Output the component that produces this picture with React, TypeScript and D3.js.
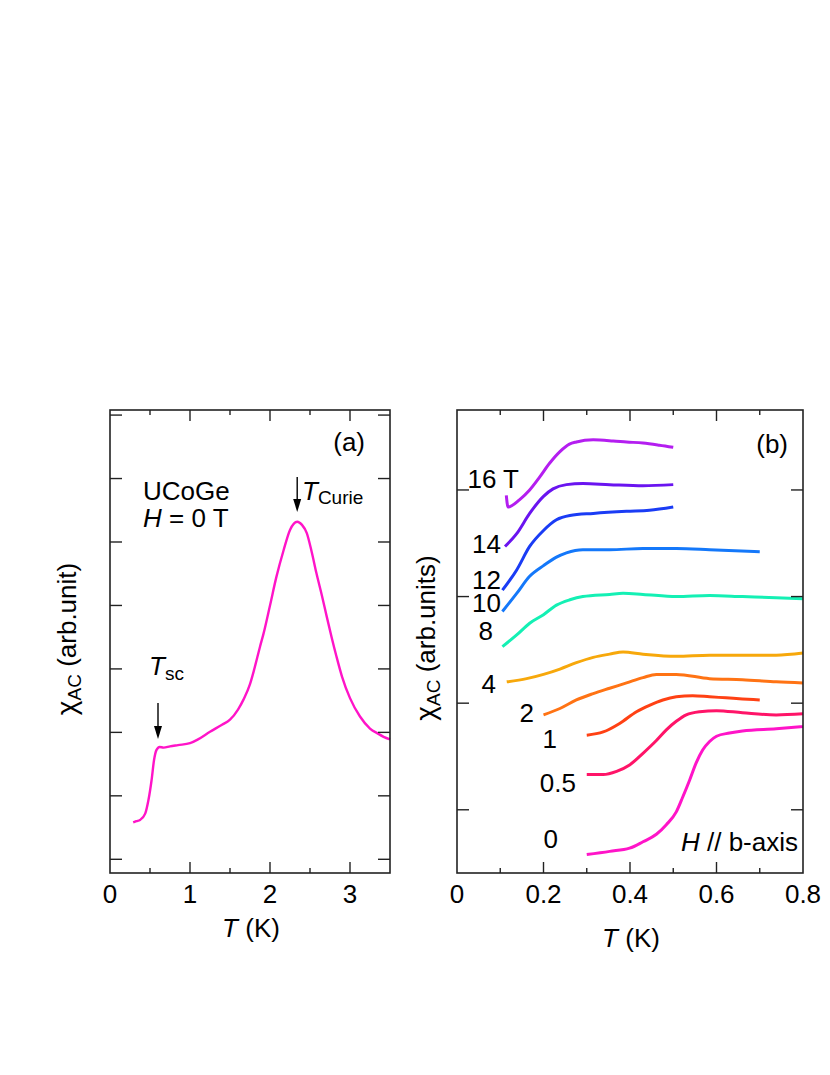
import React from 'react';
import * as d3 from 'd3';

// ---- panel (a): UCoGe, H = 0 T ----
const tA = [0.29, 0.33, 0.375, 0.44, 0.48, 0.52, 0.55, 0.58, 0.62, 0.67, 0.75, 0.85, 1.0, 1.1, 1.25, 1.4, 1.5, 1.6, 1.67, 1.75, 1.8, 1.875, 1.92, 2.0, 2.08, 2.17, 2.25, 2.34, 2.4, 2.46, 2.52, 2.58, 2.65, 2.71, 2.77, 2.83, 2.9, 3.0, 3.125, 3.25, 3.35, 3.42, 3.5];
const chiA = [0.58, 0.6, 0.62, 0.72, 0.93, 1.25, 1.56, 1.72, 1.77, 1.76, 1.78, 1.8, 1.83, 1.89, 2.01, 2.12, 2.2, 2.36, 2.52, 2.76, 2.98, 3.35, 3.56, 4.0, 4.45, 4.87, 5.19, 5.32, 5.27, 5.14, 4.85, 4.51, 4.15, 3.82, 3.5, 3.2, 2.88, 2.54, 2.25, 2.06, 1.98, 1.93, 1.89];

// ---- panel (b): field dependence, H // b ----
const t16 = [0.114, 0.118, 0.145, 0.168, 0.191, 0.214, 0.238, 0.26, 0.276, 0.315, 0.361, 0.392, 0.43, 0.468, 0.5];
const chi16 = [3.95, 3.84, 3.91, 4.0, 4.12, 4.25, 4.36, 4.43, 4.45, 4.47, 4.46, 4.45, 4.44, 4.42, 4.4];
const t14 = [0.111, 0.138, 0.168, 0.2, 0.222, 0.253, 0.291, 0.353, 0.43, 0.5];
const chi14 = [3.47, 3.59, 3.78, 3.94, 4.01, 4.05, 4.06, 4.05, 4.04, 4.05];
const t12 = [0.105, 0.138, 0.168, 0.2, 0.23, 0.261, 0.315, 0.392, 0.445, 0.5];
const chi12 = [3.06, 3.25, 3.47, 3.62, 3.72, 3.76, 3.78, 3.8, 3.81, 3.84];
const t10 = [0.105, 0.138, 0.168, 0.2, 0.23, 0.253, 0.291, 0.353, 0.43, 0.507, 0.584, 0.7];
const chi10 = [2.86, 3.03, 3.19, 3.29, 3.37, 3.41, 3.44, 3.44, 3.45, 3.45, 3.44, 3.42];
const t8 = [0.105, 0.138, 0.168, 0.2, 0.23, 0.261, 0.291, 0.353, 0.384, 0.43, 0.507, 0.584, 0.66, 0.738, 0.8];
const chi8 = [2.53, 2.64, 2.75, 2.83, 2.92, 2.97, 3.0, 3.02, 3.03, 3.02, 3.0, 3.01, 3.0, 2.99, 2.98];
const t4 = [0.115, 0.161, 0.2, 0.238, 0.276, 0.315, 0.353, 0.384, 0.43, 0.507, 0.584, 0.66, 0.738, 0.8];
const chi4 = [2.2, 2.23, 2.27, 2.32, 2.38, 2.43, 2.46, 2.48, 2.46, 2.44, 2.45, 2.45, 2.45, 2.47];
const t2 = [0.2, 0.238, 0.276, 0.315, 0.353, 0.392, 0.43, 0.461, 0.507, 0.584, 0.66, 0.738, 0.8];
const chi2 = [1.89, 1.95, 2.03, 2.09, 2.14, 2.19, 2.24, 2.27, 2.27, 2.23, 2.22, 2.2, 2.19];
const t1 = [0.3, 0.338, 0.376, 0.415, 0.445, 0.476, 0.507, 0.545, 0.584, 0.622, 0.66, 0.7];
const chi1 = [1.7, 1.73, 1.81, 1.92, 1.98, 2.03, 2.06, 2.07, 2.06, 2.05, 2.04, 2.03];
const t05 = [0.3, 0.338, 0.369, 0.399, 0.43, 0.461, 0.484, 0.507, 0.53, 0.561, 0.6, 0.66, 0.738, 0.8];
const chi05 = [1.33, 1.33, 1.36, 1.42, 1.53, 1.65, 1.75, 1.83, 1.89, 1.92, 1.93, 1.91, 1.89, 1.9];
const t0 = [0.3, 0.353, 0.399, 0.43, 0.461, 0.484, 0.507, 0.522, 0.538, 0.553, 0.568, 0.584, 0.6, 0.63, 0.66, 0.738, 0.8];
const chi0 = [0.58, 0.61, 0.64, 0.7, 0.77, 0.86, 0.98, 1.12, 1.28, 1.44, 1.56, 1.64, 1.69, 1.72, 1.74, 1.76, 1.78];

const fieldLabels = ['16 T', '14', '12', '10', '8', '4', '2', '1', '0.5', '0'];
const fieldT = [t16, t14, t12, t10, t8, t4, t2, t1, t05, t0];
const fieldChi = [chi16, chi14, chi12, chi10, chi8, chi4, chi2, chi1, chi05, chi0];

// tick labels
const xTickLabelsA = [0, 1, 2, 3];
const xTickLabelsB = [0, 0.2, 0.4, 0.6, 0.8];
const yTicksA = [0, 1, 2, 3, 4, 5, 6, 7];
const yTicksB = [1, 2, 3, 4];

const colors = ['#b41ef0', '#6a14f0', '#1a3cf5', '#1478fa', '#14f0b4', '#f7a80b', '#ff7314', '#ff4114', '#ff1468', '#ff14c8'];
// label anchor (text-anchor end) in pixels
const labelPos = [[519, 488], [501, 553], [501, 589], [501, 612], [493, 640], [496, 693], [534, 722], [557, 748], [576, 792], [558, 848]];

const FONT = '"Liberation Sans", Arial, Helvetica, sans-serif';
const TOP = 410;
const BOTTOM = 873;
const AXIS = '#222';

export default function App() {
  const xA = d3.scaleLinear().domain([0, 3.5]).range([110, 390]);
  const yA = d3.scaleLinear().domain([-0.216, 7.08]).range([BOTTOM, TOP]);
  const xB = d3.scaleLinear().domain([0, 0.8]).range([457, 803]);
  const yB = d3.scaleLinear().domain([0.407, 4.75]).range([BOTTOM, TOP]);

  const lineA = d3.line<number>().x((_, i) => xA(tA[i])).y((d) => yA(d)).curve(d3.curveMonotoneX);

  const ticksXA = d3.range(1, 7).map((i) => i * 0.5);
  const ticksXB = d3.range(1, 8).map((i) => i / 10);

  const frame = (x0: number, x1: number) => (
    <rect x={x0} y={TOP} width={x1 - x0} height={BOTTOM - TOP} fill="none" stroke={AXIS} strokeWidth={1.6} />
  );

  return (
    <svg width={830} height={1075} style={{ position: 'absolute', left: 0, top: 0, background: '#fff' }} fontFamily={FONT}>
      {/* ---------- panel (a) ---------- */}
      <path d={lineA(chiA) || ''} fill="none" stroke="#ff14c8" strokeWidth={2.4} strokeLinejoin="round" />
      {frame(110, 390)}
      {ticksXA.map((t) => {
        const len = Number.isInteger(t) ? 11 : 5;
        return (
          <g key={'xa' + t} stroke={AXIS} strokeWidth={1.4}>
            <line x1={xA(t)} x2={xA(t)} y1={BOTTOM} y2={BOTTOM - len} />
            <line x1={xA(t)} x2={xA(t)} y1={TOP} y2={TOP + len} />
          </g>
        );
      })}
      {yTicksA.map((v) => (
        <g key={'ya' + v} stroke={AXIS} strokeWidth={1.4}>
          <line x1={110} x2={122} y1={yA(v)} y2={yA(v)} />
          <line x1={390} x2={378} y1={yA(v)} y2={yA(v)} />
        </g>
      ))}
      {xTickLabelsA.map((t) => (
        <text key={'la' + t} x={xA(t)} y={903} fontSize={26} textAnchor="middle">{t}</text>
      ))}
      <text x={251} y={937} fontSize={26} textAnchor="middle">
        <tspan fontStyle="italic">T</tspan> (K)
      </text>
      <text transform="translate(76,639) rotate(-90)" fontSize={26} textAnchor="middle">
        <tspan fontSize={28}>χ</tspan>
        <tspan fontSize={19} dy={5}>AC</tspan>
        <tspan dy={-5}>{'\u00a0(arb.unit)'}</tspan>
      </text>
      <text x={365} y={451} fontSize={26} textAnchor="end">(a)</text>
      <text x={143} y={500} fontSize={26}>UCoGe</text>
      <text x={143} y={527} fontSize={26}>
        <tspan fontStyle="italic">H</tspan> = 0 T
      </text>
      {/* T_Curie arrow */}
      <line x1={xA(2.34)} x2={xA(2.34)} y1={477} y2={503} stroke="#000" strokeWidth={1.4} />
      <path d={`M${xA(2.34) - 4},499 L${xA(2.34) + 4},499 L${xA(2.34)},512 Z`} fill="#000" />
      <text x={302} y={500} fontSize={26}>
        <tspan fontStyle="italic">T</tspan>
        <tspan fontSize={19} dy={4}>Curie</tspan>
      </text>
      {/* T_sc arrow */}
      <line x1={xA(0.6)} x2={xA(0.6)} y1={703} y2={730} stroke="#000" strokeWidth={1.4} />
      <path d={`M${xA(0.6) - 4},726 L${xA(0.6) + 4},726 L${xA(0.6)},739 Z`} fill="#000" />
      <text x={149} y={675} fontSize={26}>
        <tspan fontStyle="italic">T</tspan>
        <tspan fontSize={19} dy={5}>sc</tspan>
      </text>

      {/* ---------- panel (b) ---------- */}
      {fieldChi.map((vals, k) => {
        const ts = fieldT[k];
        const ln = d3.line<number>().x((_, i) => xB(ts[i])).y((d) => yB(d)).curve(d3.curveMonotoneX);
        return (
          <path key={'c' + k} d={ln(vals) || ''} fill="none" stroke={colors[k]} strokeWidth={3} strokeLinejoin="round" />
        );
      })}
      {frame(457, 803)}
      {ticksXB.map((t, i) => {
        const len = (i + 1) % 2 === 0 ? 11 : 5;
        return (
          <g key={'xb' + i} stroke={AXIS} strokeWidth={1.4}>
            <line x1={xB(t)} x2={xB(t)} y1={BOTTOM} y2={BOTTOM - len} />
            <line x1={xB(t)} x2={xB(t)} y1={TOP} y2={TOP + len} />
          </g>
        );
      })}
      {yTicksB.map((v) => (
        <g key={'yb' + v} stroke={AXIS} strokeWidth={1.4}>
          <line x1={457} x2={469} y1={yB(v)} y2={yB(v)} />
          <line x1={803} x2={791} y1={yB(v)} y2={yB(v)} />
        </g>
      ))}
      {xTickLabelsB.map((t) => (
        <text key={'lb' + t} x={xB(t)} y={903} fontSize={26} textAnchor="middle">{t}</text>
      ))}
      <text x={631} y={947} fontSize={26} textAnchor="middle">
        <tspan fontStyle="italic">T</tspan> (K)
      </text>
      <text transform="translate(435,638) rotate(-90)" fontSize={26} textAnchor="middle">
        <tspan fontSize={28}>χ</tspan>
        <tspan fontSize={19} dy={5}>AC</tspan>
        <tspan dy={-5}>{'\u00a0(arb.units)'}</tspan>
      </text>
      <text x={788} y={453} fontSize={26} textAnchor="end">(b)</text>
      {fieldLabels.map((lab, k) => (
        <text key={'f' + k} x={labelPos[k][0]} y={labelPos[k][1]} fontSize={26} textAnchor="end">{lab}</text>
      ))}
      <text x={798} y={851} fontSize={26} textAnchor="end">
        <tspan fontStyle="italic">H</tspan> // b-axis
      </text>
    </svg>
  );
}
